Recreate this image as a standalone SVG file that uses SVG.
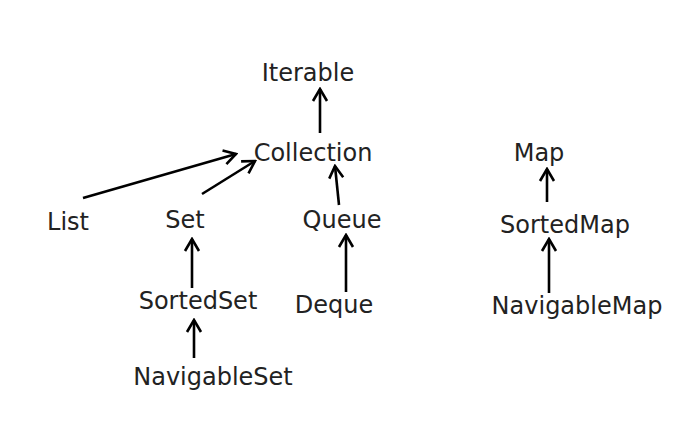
<svg xmlns="http://www.w3.org/2000/svg" width="679" height="436" viewBox="0 0 679 436">
<defs>
<style>
text{font-family:"DejaVu Sans",Verdana,sans-serif;font-size:24px;fill:#222;text-anchor:middle}
.c line{stroke:#000;stroke-width:2.6;marker-end:url(#ah)}
</style>
<marker id="ah" markerUnits="userSpaceOnUse" viewBox="-14 -9 16 18" markerWidth="16" markerHeight="18" refX="0" refY="0" orient="auto">
<path d="M-12,-7 L0,0 L-12,7" fill="none" stroke="#000" stroke-width="2.6" stroke-linejoin="miter"/>
</marker>
</defs>
<rect width="679" height="436" fill="#fff"/>
<g class="c" id="connectors">
<line x1="320" y1="133" x2="320" y2="89"/>
<line x1="83" y1="198" x2="236" y2="154"/>
<line x1="202" y1="194" x2="255" y2="161"/>
<line x1="339" y1="205" x2="335" y2="166"/>
<line x1="192" y1="288" x2="192" y2="239"/>
<line x1="346" y1="292" x2="346" y2="235"/>
<line x1="194" y1="358" x2="194" y2="320"/>
<line x1="547" y1="202" x2="547" y2="169"/>
<line x1="549" y1="293" x2="549" y2="239"/>
</g>
<g id="Iterable"><text x="308" y="81">Iterable</text></g>
<g id="Collection"><text x="313" y="161">Collection</text></g>
<g id="List"><text x="68" y="230">List</text></g>
<g id="Set"><text x="185" y="228">Set</text></g>
<g id="Queue"><text x="342" y="228">Queue</text></g>
<g id="SortedSet"><text x="198" y="309">SortedSet</text></g>
<g id="Deque"><text x="334" y="313">Deque</text></g>
<g id="NavigableSet"><text x="213" y="385">NavigableSet</text></g>
<g id="Map"><text x="539" y="161">Map</text></g>
<g id="SortedMap"><text x="565" y="233">SortedMap</text></g>
<g id="NavigableMap"><text x="577" y="314">NavigableMap</text></g>
</svg>
